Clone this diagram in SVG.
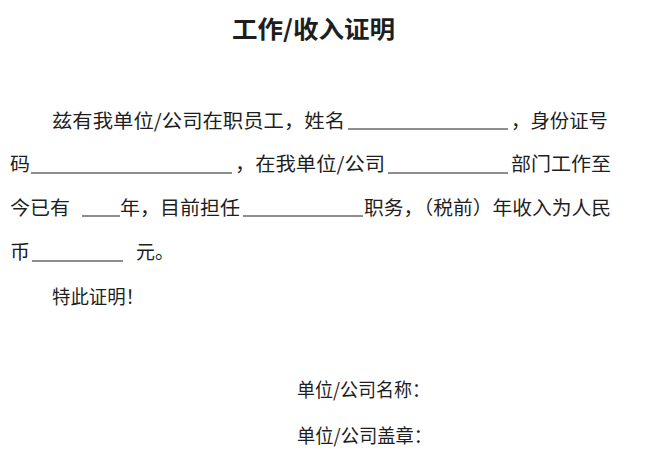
<svg xmlns="http://www.w3.org/2000/svg" width="653" height="457" viewBox="0 0 653 457">
<style>
text{font-family:"Noto Sans CJK SC","Liberation Serif",serif;fill:#1e1e1e;font-size:19px}
.t{font-size:24px;font-weight:bold}
.u{stroke:#1e1e1e;stroke-width:1.2}
</style>
<rect width="653" height="457" fill="#ffffff"/>
<text class="t" x="232" y="38" textLength="163" lengthAdjust="spacingAndGlyphs">工作/收入证明</text>
<g id="line1">
<text x="52" y="128" textLength="293" lengthAdjust="spacingAndGlyphs">兹有我单位/公司在职员工，姓名</text>
<line class="u" x1="348" y1="129" x2="508" y2="129"/>
<text x="511" y="128" textLength="97" lengthAdjust="spacingAndGlyphs">，身份证号</text>
</g>
<g id="line2">
<text x="10" y="171" textLength="20" lengthAdjust="spacingAndGlyphs">码</text>
<line class="u" x1="31" y1="173" x2="232" y2="173"/>
<text x="235" y="171" textLength="150" lengthAdjust="spacingAndGlyphs">，在我单位/公司</text>
<line class="u" x1="388" y1="173" x2="508" y2="173"/>
<text x="511" y="171" textLength="100" lengthAdjust="spacingAndGlyphs">部门工作至</text>
</g>
<g id="line3">
<text x="10" y="215" textLength="60" lengthAdjust="spacingAndGlyphs">今已有</text>
<line class="u" x1="82" y1="216" x2="120" y2="216"/>
<text x="120" y="215" textLength="120" lengthAdjust="spacingAndGlyphs">年，目前担任</text>
<line class="u" x1="243" y1="216" x2="363" y2="216"/>
<text x="364" y="215" textLength="247" lengthAdjust="spacingAndGlyphs">职务，（税前）年收入为人民</text>
</g>
<g id="line4">
<text x="10" y="259" textLength="20" lengthAdjust="spacingAndGlyphs">币</text>
<line class="u" x1="32" y1="261" x2="123" y2="261"/>
<text x="136" y="259" textLength="38" lengthAdjust="spacingAndGlyphs">元。</text>
</g>
<g id="line5">
<text x="52" y="304" textLength="92" lengthAdjust="spacingAndGlyphs">特此证明！</text>
</g>
<g id="signature">
<text x="297" y="397" textLength="133" lengthAdjust="spacingAndGlyphs">单位/公司名称：</text>
<text x="297" y="443" textLength="135" lengthAdjust="spacingAndGlyphs">单位/公司盖章：</text>
</g>
</svg>
